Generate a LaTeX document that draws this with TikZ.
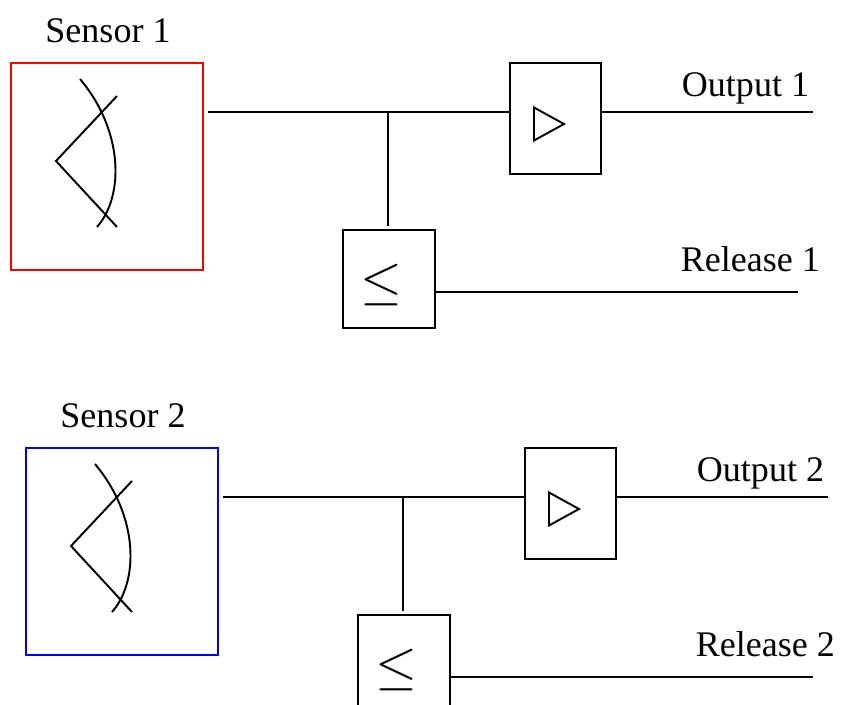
\RequirePackage{fix-cm}
\documentclass[tikz,border=0pt]{standalone}
\usepackage{fontspec}
\setmainfont{Liberation Serif}
\tikzset{
  sensorbox/.style={draw, minimum width=3.84cm, minimum height=4.14cm, inner sep=0pt},
  ampbox/.style={draw, minimum width=1.82cm, minimum height=2.22cm, inner sep=0pt},
  cmpbox/.style={draw, minimum width=1.84cm, minimum height=1.96cm, inner sep=0pt},
  bigsym/.style={inner sep=0pt, font=\fontsize{30.7}{36}\selectfont},
  tag/.style={inner sep=0pt, anchor=base west}
}
\begin{document}
\begin{tikzpicture}[x=0.02cm, y=-0.02cm, line width=1.1pt, font=\fontsize{20.5}{24}\selectfont]
            \clip (0,0) rectangle (846,705);
            % first sensor
            \node [sensorbox, draw=red] (sen1) at (107,166.5) {};
            \node [anchor=base] (lab1) at (108,43) {Sensor 1};
            \draw [shift={(sen1.center)}] (10,-70.5) -- (-51,-5.5) -- (10,60.5);
            \draw [shift={(sen1.center)}] (-27,-87.5) .. controls (17,-35) and (17,30) .. (-10,60.5);
            \node [ampbox] (amp1) at (555.5,118.5) {};
            \draw [shift={(amp1.center)}] (-21.5,-11) -- (8.5,5.5) -- (-21.5,22) -- cycle;
            \node [cmpbox] (cmp1) at (389,279) {};
            \node [bigsym] (le1) at (381.5,285.5) {$\leq$};
            \coordinate (j1) at (388,112);
            \coordinate (out1) at (813,112);
            \coordinate (rel1) at (798,292);
            \draw [shorten <=0.08cm] (sen1.east |- j1) to (j1) to (j1 -| amp1.west);
            \draw [shorten >=0.06cm] (j1) to (j1 |- cmp1.north);
            \draw (j1 -| amp1.east) to (out1);
            \draw (rel1 -| cmp1.east) to (rel1);
            \node [tag] (o1) at (681,97) {Output 1};
            \node [tag] (r1) at (680,272) {Release 1};
            % second sensor
            \node [sensorbox, draw=blue] (sen2) at (122,551.5) {};
            \node [anchor=base] (lab2) at (123,428) {Sensor 2};
            \draw [shift={(sen2.center)}] (10,-70.5) -- (-51,-5.5) -- (10,60.5);
            \draw [shift={(sen2.center)}] (-27,-87.5) .. controls (17,-35) and (17,30) .. (-10,60.5);
            \node [ampbox] (amp2) at (570.5,503.5) {};
            \draw [shift={(amp2.center)}] (-21.5,-11) -- (8.5,5.5) -- (-21.5,22) -- cycle;
            \node [cmpbox] (cmp2) at (404,664) {};
            \node [bigsym] (le2) at (396.5,670.5) {$\leq$};
            \coordinate (j2) at (403,497);
            \coordinate (out2) at (828,497);
            \coordinate (rel2) at (813,677);
            \draw [shorten <=0.08cm] (sen2.east |- j2) to (j2) to (j2 -| amp2.west);
            \draw [shorten >=0.06cm] (j2) to (j2 |- cmp2.north);
            \draw (j2 -| amp2.east) to (out2);
            \draw (rel2 -| cmp2.east) to (rel2);
            \node [tag] (o2) at (696,482) {Output 2};
            \node [tag] (r2) at (695,657) {Release 2};
        \end{tikzpicture}
\end{document}
